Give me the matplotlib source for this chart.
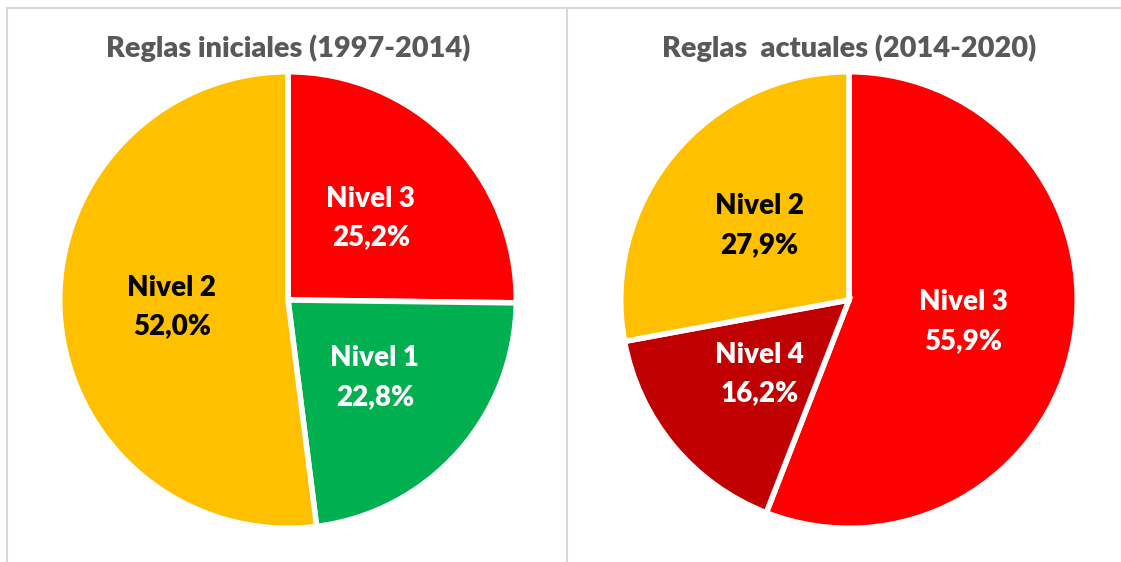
import matplotlib.pyplot as plt
from matplotlib.lines import Line2D

# data
left_title = 'Reglas iniciales (1997-2014)'
left_labels = ['Nivel 3', 'Nivel 1', 'Nivel 2']
left_values = [25.2, 22.8, 52.0]
left_colors = ['#FF0000', '#00B050', '#FFC000']
left_text = ['white', 'white', 'black']

right_title = 'Reglas  actuales (2014-2020)'
right_labels = ['Nivel 3', 'Nivel 4', 'Nivel 2']
right_values = [55.9, 16.2, 27.9]
right_colors = ['#FF0000', '#C00000', '#FFC000']
right_text = ['white', 'white', 'black']

W, H = 1121, 562
plt.rcParams['font.family'] = ['Lato', 'DejaVu Sans']
fig = plt.figure(figsize=(W / 100, H / 100), dpi=100)


def draw_pie(cx, cy, r, title, labels, values, colors, text_colors):
    # cx, cy, r in pixels (y from top)
    ax = fig.add_axes([(cx - r) / W, (H - cy - r) / H, 2 * r / W, 2 * r / H])
    wedges, texts, autotexts = ax.pie(
        values, colors=colors, startangle=90, counterclock=False,
        autopct=lambda p: '', pctdistance=0.51,
        wedgeprops=dict(edgecolor='white', linewidth=4))
    for i, at in enumerate(autotexts):
        at.set_text(f'{labels[i]}\n{values[i]:.1f}%'.replace('.', ','))
        at.set_color(text_colors[i])
        at.set_fontsize(20)
        at.set_fontweight('heavy')
        at.set_linespacing(1.6)
    ax.set_xlim(-0.99, 0.99)
    ax.set_ylim(-0.99, 0.99)
    ax.axis('off')
    fig.text(cx / W, 1 - 48 / H, title, ha='center', va='center',
             fontsize=20.8, fontweight='heavy', color='#595959')


draw_pie(288, 300, 226, left_title, left_labels, left_values, left_colors, left_text)
draw_pie(849, 300, 226, right_title, right_labels, right_values, right_colors, right_text)

# frame lines
grey = '#D9D9D9'
fig.add_artist(Line2D([7 / W, 1], [1 - 8 / H, 1 - 8 / H], color=grey, lw=1.5))
fig.add_artist(Line2D([7 / W, 7 / W], [0, 1 - 8 / H], color=grey, lw=1.5))
fig.add_artist(Line2D([567 / W, 567 / W], [0, 1 - 8 / H], color=grey, lw=1.5))

fig.savefig('out.png', dpi=100)
